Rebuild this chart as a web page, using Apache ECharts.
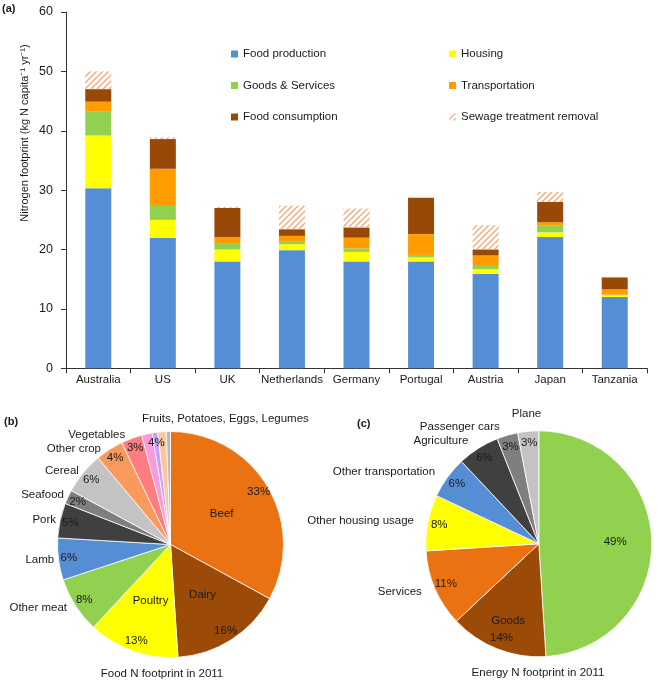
<!DOCTYPE html>
<html><head><meta charset="utf-8">
<script src="https://cdn.jsdelivr.net/npm/echarts@6/dist/echarts.min.js"></script>
<style>html,body{margin:0;padding:0;background:#fff}#c{width:658px;height:685px}</style>
</head><body><div id="c"></div>
<script>
// ---------- (a) stacked bars ----------
const countries = ['Australia','US','UK','Netherlands','Germany','Portugal','Austria','Japan','Tanzania'];
const foodProduction  = [30.3, 22.0, 18.0, 19.9, 18.0, 18.0, 15.9, 22.1, 12.0];
const housing         = [8.9, 3.0, 2.0, 1.0, 1.6, 0.7, 0.8, 0.8, 0.3];
const goodsServices   = [4.0, 2.5, 1.1, 0.4, 0.6, 0.4, 0.7, 1.1, 0.1];
const transportation  = [1.7, 6.1, 1.0, 1.0, 1.8, 3.5, 1.6, 0.6, 0.9];
const foodConsumption = [2.1, 5.0, 4.9, 1.1, 1.7, 6.1, 1.0, 3.4, 2.0];
const sewageRemoval   = [3.0, 0.3, 0.2, 4.0, 3.2, 0.0, 4.1, 1.7, 0.0];
const yTicks = [0, 10, 20, 30, 40, 50, 60];
const yAxisTitle = 'Nitrogen footprint (kg N capita\u207B\u00B9 yr\u207B\u00B9)';

// ---------- (b) food pie ----------
const foodNames  = ['Beef','Dairy','Poultry','Other meat','Lamb','Pork','Seafood','Cereal','Other crop','Vegetables','Fruits','Potatoes','Eggs','Legumes'];
const foodValues = [33, 16, 13, 8, 6, 5, 2, 6, 4, 3, 1.5, 0.8, 1.2, 0.6];
const foodPctText = ['33%','16%','13%','8%','6%','5%','2%','6%','4%','3%','','4%','',''];
const foodGroupLabel = 'Fruits, Potatoes, Eggs, Legumes';
const foodTitle = 'Food N footprint in 2011';

// ---------- (c) energy pie ----------
const energyNames  = ['Electricity','Goods','Services','Other housing usage','Other transportation','Agriculture','Passenger cars','Plane'];
const energyValues = [49, 14, 11, 8, 6, 6, 3, 3];
const energyPctText = ['49%','14%','11%','8%','6%','6%','3%','3%'];
const energyTitle = 'Energy N footprint in 2011';

const FONT = "'Liberation Sans', Arial, sans-serif";
const TXT = '#1a1a1a';

function hatch() {
  const c = document.createElement('canvas'); c.width = 6; c.height = 6;
  const g = c.getContext('2d'); g.strokeStyle = '#F2AE80'; g.lineWidth = 1.5;
  g.beginPath();
  g.moveTo(0,6); g.lineTo(6,0);
  g.moveTo(-1,1); g.lineTo(1,-1);
  g.moveTo(5,7); g.lineTo(7,5);
  g.stroke();
  return {image: c, repeat: 'repeat'};
}

const barSeriesDef = [
  ['Food production', foodProduction, '#558ED5'],
  ['Housing', housing, '#FFFF00'],
  ['Goods & Services', goodsServices, '#92D050'],
  ['Transportation', transportation, '#FF9C00'],
  ['Food consumption', foodConsumption, '#984807'],
  ['Sewage treatment removal', sewageRemoval, hatch()]
];

const series = barSeriesDef.map(([n, d, c]) => ({
  type: 'bar', name: n, data: d, stack: 'total', barWidth: 26,
  itemStyle: {color: c}, xAxisIndex: 0, yAxisIndex: 0, silent: true
}));

// ---- pie helpers ----
const R = 113;
const labelFont = {color: TXT, fontSize: 11.5, fontFamily: FONT};
function visiblePie(center, names, values, colors, outsideSet, insideSet, extra) {
  return Object.assign({
    type: 'pie', center: center, radius: [0, R], startAngle: 90, clockwise: true,
    silent: true, avoidLabelOverlap: true,
    itemStyle: {borderColor: '#fff', borderWidth: 0.8},
    label: {show: false, bleedMargin: 0, overflow: 'none'},
    labelLine: {show: false, length: 4, length2: 0},
    data: names.map((n, i) => ({
      name: n, value: values[i], itemStyle: {color: colors[i]},
      label: outsideSet.has(n)
        ? Object.assign({show: true, position: 'outside', formatter: '{b}', bleedMargin: 0, overflow: 'none'}, labelFont)
        : insideSet.has(n)
          ? Object.assign({show: true, position: 'inside', formatter: '{b}'}, labelFont)
          : {show: false}
    }))
  }, extra || {});
}
// transparent ring used only to place texts at a given fraction of the radius
function labelRing(center, names, values, texts, factor, styleOverrides) {
  return {
    type: 'pie', center: center, radius: [0, 2 * factor * R], startAngle: 90, clockwise: true,
    silent: true, z: 5,
    itemStyle: {color: 'rgba(0,0,0,0)', borderWidth: 0},
    labelLine: {show: false},
    data: names.map((n, i) => ({
      name: n, value: values[i],
      label: texts[i] ? Object.assign({show: true, position: 'inside', formatter: texts[i]}, labelFont,
        (styleOverrides && styleOverrides[i]) || {}) : {show: false}
    }))
  };
}

const foodColors = ['#EA7212','#9C4A08','#FFFF00','#92D050','#558ED5','#404040','#7F7F7F','#C3C3C3','#F99A5C','#FF7C80','#F99BDA','#C9A0F5','#FBC79A','#B8B8B8'];
const energyColors = ['#92D050','#9C4A08','#EA7212','#FFFF00','#558ED5','#404040','#7F7F7F','#C3C3C3'];
const cB = [170.5, 544.5], cC = [538.8, 543.8];

series.push(visiblePie(cB, foodNames, foodValues, foodColors,
  new Set(['Other meat','Lamb','Pork','Seafood','Cereal','Other crop','Vegetables']),
  new Set(['Beef','Dairy','Poultry'])));
series.push(labelRing(cB, foodNames, foodValues, foodPctText, 0.88));

series.push(visiblePie(cC, energyNames, energyValues, energyColors,
  new Set(['Services','Other housing usage','Other transportation','Agriculture','Passenger cars']),
  new Set([]), {labelLine: {show: false, length: 9, length2: 0}}));
series.push(labelRing(cC, energyNames, energyValues, energyPctText.map((t, i) => i === 0 ? '' : t), 0.87));
series.push(labelRing(cC, energyNames, energyValues, energyPctText.map((t, i) => i === 0 ? t : ''), 0.65));
series.push(labelRing(cC, energyNames, energyValues, energyNames.map((n, i) => i === 0 ? n : ''), 0.5,
  [{padding: [38, 0, 0, 0]}]));
series.push(labelRing(cC, energyNames, energyValues, energyNames.map((n, i) => i === 1 ? n : ''), 0.71));
series.push(labelRing(cC, energyNames, energyValues, energyNames.map((n, i) => i === 7 ? n : ''), 1.125));

const legendCommon = {
  orient: 'vertical', itemWidth: 7, itemHeight: 7, itemGap: 19.5, padding: 0,
  icon: 'rect', selectedMode: false,
  textStyle: {fontSize: 11.5, fontFamily: FONT, color: TXT}
};

const option = {
  animation: false,
  backgroundColor: '#fff',
  textStyle: {fontFamily: FONT},
  legend: [
    Object.assign({left: 231, top: 48, data: ['Food production','Goods & Services','Food consumption']}, legendCommon),
    Object.assign({left: 449, top: 48, data: ['Housing','Transportation','Sewage treatment removal']}, legendCommon)
  ],
  grid: {left: 66, right: 11, top: 12, bottom: 316.7, containLabel: false},
  xAxis: {
    type: 'category', data: countries,
    axisLine: {lineStyle: {color: '#333', width: 1}},
    axisTick: {show: true, length: 5, lineStyle: {color: '#333'}},
    axisLabel: {fontSize: 11.5, color: TXT, margin: 6, fontFamily: FONT, interval: 0}
  },
  yAxis: {
    type: 'value', min: yTicks[0], max: yTicks[yTicks.length - 1], interval: 10,
    axisLine: {show: true, lineStyle: {color: '#333', width: 1}},
    axisTick: {show: true, length: 5, lineStyle: {color: '#333'}},
    splitLine: {show: false},
    axisLabel: {fontSize: 12.5, color: TXT, margin: 13, fontFamily: FONT}
  },
  series: series,
  graphic: [
    {type: 'text', left: 2, top: 3, style: {text: '(a)', font: "bold 11px " + FONT, fill: TXT}},
    {type: 'text', left: 4, top: 416, style: {text: '(b)', font: "bold 11px " + FONT, fill: TXT}},
    {type: 'text', left: 357, top: 418, style: {text: '(c)', font: "bold 11px " + FONT, fill: TXT}},
    {type: 'text', x: 25, y: 133, rotation: Math.PI / 2,
      style: {text: yAxisTitle, font: "11px " + FONT, fill: TXT, align: 'center', verticalAlign: 'middle'}},
    {type: 'text', x: 142, y: 419, style: {text: foodGroupLabel, font: "11.5px " + FONT, fill: TXT, align: 'left', verticalAlign: 'middle'}},
    {type: 'text', x: 162, y: 674, style: {text: foodTitle, font: "11.5px " + FONT, fill: TXT, align: 'center', verticalAlign: 'middle'}},
    {type: 'text', x: 538, y: 673, style: {text: energyTitle, font: "11.5px " + FONT, fill: TXT, align: 'center', verticalAlign: 'middle'}}
  ]
};

const chart = echarts.init(document.getElementById('c'), null, {renderer: 'canvas'});
chart.setOption(option);
</script>
</body></html>
